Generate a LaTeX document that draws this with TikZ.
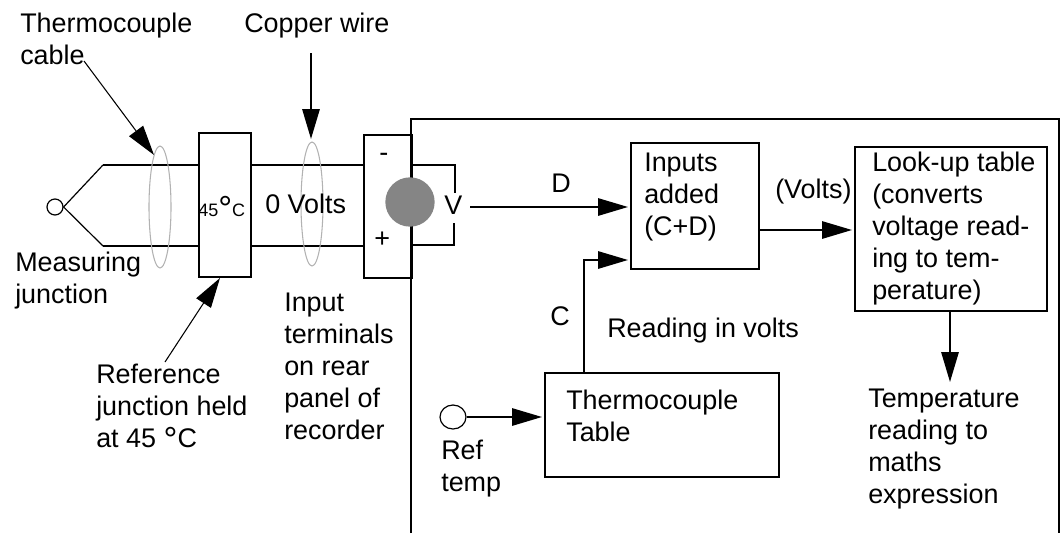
\documentclass[tikz,border=0pt]{standalone}
\usepackage{fontspec}
\setmainfont{Liberation Sans}
\usetikzlibrary{arrows.meta,positioning,calc,shapes.geometric}
\definecolor{DotGrey}{RGB}{133,133,133}
\definecolor{LoopGrey}{RGB}{178,178,178}
\newcommand{\bigdegree}[1]{\raisebox{#1}{\fontsize{26}{26}\selectfont °}}
\tikzset{
  caption/.style={inner sep=0pt, anchor=base west, align=left,
    font=\fontsize{20.2}{24}\selectfont},
  blockbox/.style={draw, line width=1.5pt, inner sep=0pt, anchor=north west},
  wire/.style={line width=1.5pt},
  arrow/.style={-{Triangle[length=22.5pt, width=13pt]}, line width=1.5pt, shorten >=1.5pt},
  thinarrow/.style={-{Triangle[length=22.5pt, width=13pt]}, line width=0.8pt},
  probe/.style={draw, circle, line width=0.9pt, inner sep=0pt},
  loopring/.style={draw=LoopGrey, ellipse, line width=0.8pt, inner sep=0pt}
}
\begin{document}
\begin{tikzpicture}[x=0.75pt, y=-0.75pt]
      \useasboundingbox (0,0) rectangle (1061,533);
      % recorder panel
      \draw[wire] (411,533) -- (411,119) -- (1059,119) -- (1059,533);
      % blocks
      \node[blockbox, minimum width=39pt, minimum height=108pt] (refbox) at (198,132) {};
      \node[blockbox, minimum width=36pt, minimum height=107.25pt] (termbox) at (363,134) {};
      \node[blockbox, minimum width=96pt, minimum height=94.5pt] (adder) at (630,142) {};
      \node[blockbox, minimum width=144pt, minimum height=123pt] (lookup) at (854,146) {};
      \node[blockbox, minimum width=175.5pt, minimum height=78pt] (tctable) at (544,372) {};
      % thermocouple and copper pairs
      \node[probe, minimum size=12pt] (measure) at (55,207) {};
      \coordinate (uppersplit) at (103,165);
      \coordinate (lowersplit) at (103,246);
      \draw[line width=0.9pt] (measure.east) -- (uppersplit);
      \draw[line width=0.9pt] (measure.east) -- (lowersplit);
      \draw[wire] (uppersplit) -- (refbox.west |- uppersplit);
      \draw[wire] (lowersplit) -- (refbox.west |- lowersplit);
      \draw[wire] (refbox.east |- uppersplit) -- (termbox.west |- uppersplit);
      \draw[wire] (refbox.east |- lowersplit) -- (termbox.west |- lowersplit);
      % loops round the pairs
      \node[loopring, minimum width=16.5pt, minimum height=91.5pt] (cableloop) at (160,207) {};
      \node[loopring, minimum width=16.5pt, minimum height=93pt] (copperloop) at (312,204) {};
      % voltmeter
      \node[circle, fill=DotGrey, minimum size=37pt, inner sep=0pt] (meter) at (410,202) {};
      \node[caption] (vlabel) at (444,214) {V};
      \draw[wire] (termbox.east |- 0,165) -| (455,193);
      \draw[wire] (termbox.east |- 0,245) -| (454,223);
      % signal path
      \coordinate (dstart) at (470,207);
      \coordinate (cbend) at (584,260);
      \node[probe, ellipse, minimum width=19.5pt, minimum height=18pt] (reftemp) at (453,417) {};
      \draw[arrow] (dstart) -- (adder.west |- dstart);
      \draw[arrow] (tctable.north -| cbend) -- (cbend) -- (adder.west |- cbend);
      \draw[arrow] (adder.east |- 0,230) -- (lookup.west |- 0,230);
      \draw[arrow] (reftemp.east) -- (tctable.west |- reftemp.east);
      \coordinate (readout) at (950,384);
      \draw[arrow] (lookup.south -| readout) -- (readout);
      % callouts
      \node[caption] (cablelabel) at (20,64) {Thermocouple\\cable};
      \node[caption] (copperlabel) at (244,32) {Copper wire};
      \node[caption] (measurelabel) at (15,303) {Measuring\\junction};
      \node[caption] (reflabel) at (96,447) {Reference\\junction held\\at 45 \bigdegree{-3.7pt}C};
      \node[caption] (inputlabel) at (284,439) {Input\\terminals\\on rear\\panel of\\recorder};
      \coordinate (cablefrom) at (84,61);
      \coordinate (cableto) at (154,155);
      \coordinate (copperfrom) at (311,53);
      \coordinate (copperto) at (311,141);
      \coordinate (reffrom) at (165,362);
      \coordinate (refto) at (220,278);
      \draw[thinarrow] (cablefrom) -- (cableto);
      \draw[arrow] (copperfrom) -- (copperto);
      \draw[thinarrow] (reffrom) -- (refto);
      % text in the blocks and on the lines
      \node[inner sep=0pt, anchor=base west] (tempsetting) at (198,216) {\fontsize{13.5}{13.5}\selectfont 45\bigdegree{-3pt}C};
      \node[caption] (zerovolts) at (265,213) {0 Volts};
      \node[caption] (minus) at (379,161) {-};
      \node[caption] (plus) at (374,247) {+};
      \node[caption] (dlabel) at (551,192) {D};
      \node[caption] (clabel) at (550,325) {C};
      \node[caption] (voltslabel) at (775,198) {(Volts)};
      \node[caption] (addertext) at (644,235) {Inputs\\added\\(C+D)};
      \node[caption] (lookuptext) at (872,299) {Look-up table\\(converts\\voltage read-\\ing to tem-\\perature)};
      \node[caption] (readinglabel) at (607,337) {Reading in volts};
      \node[caption] (tabletext) at (566,441) {Thermocouple\\Table};
      \node[caption] (reftemplabel) at (441,491) {Ref\\temp};
      \node[caption] (outlabel) at (868,503) {Temperature\\reading to\\maths\\expression};
    \end{tikzpicture}
\end{document}
